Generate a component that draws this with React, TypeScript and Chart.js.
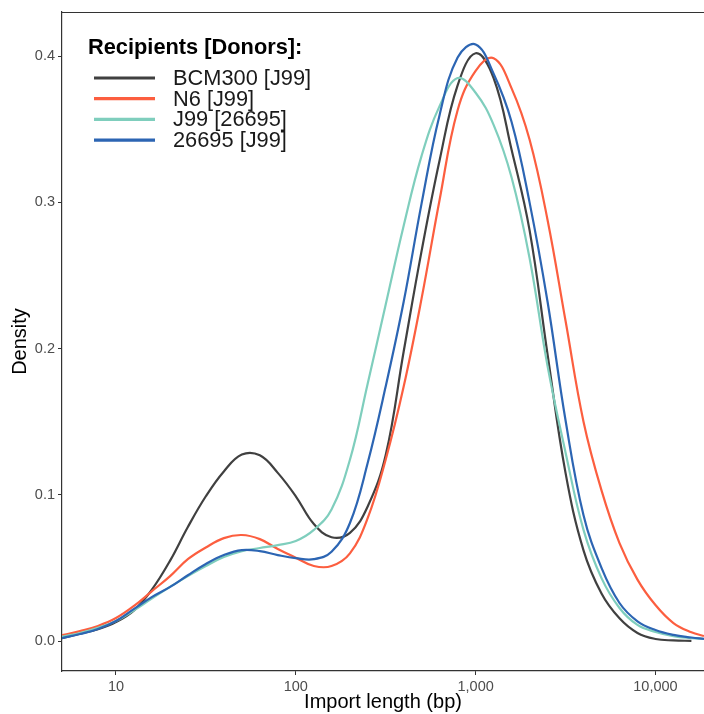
import React, { useEffect, useRef } from 'react';
import { Chart, registerables } from 'chart.js';

Chart.register(...registerables);

// Import length in bp (sampled on the log axis)
const importLengthBp = [
  5.01, 6.31, 7.94, 10, 12.6, 15.8, 20, 25.1, 31.6, 39.8, 50.1, 63.1, 79.4,
  100, 126, 158, 200, 251, 316, 398, 501, 631, 794, 1000, 1259, 1585, 1995,
  2512, 3162, 3981, 5012, 6310, 7943, 10000, 12589, 15849, 18620,
];

const bcm300J99 = [
  0.002, 0.005, 0.008, 0.013, 0.021, 0.035, 0.055, 0.078, 0.099, 0.116, 0.1275, 0.127, 0.115,
  0.099, 0.080, 0.071, 0.074, 0.092, 0.127, 0.198, 0.267, 0.329, 0.380, 0.402, 0.385, 0.336,
  0.281, 0.196, 0.115, 0.062, 0.0325, 0.0155, 0.0055, 0.0014, 0.0004, 0.0001, null,
];

const n6J99 = [
  0.004, 0.0068, 0.0103, 0.0157, 0.024, 0.034, 0.0444, 0.056, 0.064, 0.0704, 0.0725, 0.0697, 0.063,
  0.057, 0.0513, 0.0513, 0.060, 0.084, 0.124, 0.174, 0.2345, 0.302, 0.363, 0.390, 0.3986, 0.378,
  0.343, 0.288, 0.219, 0.150, 0.103, 0.067, 0.042, 0.0246, 0.0123, 0.006, 0.0034,
];

const j99_26695 = [
  0.003, 0.0055, 0.009, 0.0137, 0.021, 0.029, 0.037, 0.0444, 0.0513, 0.0574, 0.0615, 0.0636, 0.0656,
  0.0684, 0.076, 0.090, 0.124, 0.176, 0.230, 0.284, 0.332, 0.366, 0.385, 0.375, 0.353, 0.317,
  0.262, 0.188, 0.129, 0.076, 0.043, 0.0226, 0.011, 0.0062, 0.0034, 0.002, 0.0014,
];

const h26695J99 = [
  0.002, 0.0048, 0.0082, 0.0137, 0.022, 0.030, 0.037, 0.045, 0.0527, 0.0588, 0.0622, 0.0615, 0.0588,
  0.0567, 0.056, 0.061, 0.0807, 0.1217, 0.174, 0.232, 0.2995, 0.36, 0.399, 0.408, 0.388, 0.355,
  0.30, 0.232, 0.151, 0.086, 0.050, 0.026, 0.0135, 0.0075, 0.0042, 0.0024, 0.0014,
];

const seriesLabels = ['BCM300 [J99]', 'N6 [J99]', 'J99 [26695]', '26695 [J99]'];
const seriesColors = ['#404040', '#FC5E3F', '#7FCEBD', '#2C65B3'];
const seriesValues = [bcm300J99, n6J99, j99_26695, h26695J99];

const xTickValues = [10, 100, 1000, 10000];
const xTickLabels = ['10', '100', '1,000', '10,000'];
const yTickValues = [0, 0.1, 0.2, 0.3, 0.4];
const yTickLabels = ['0.0', '0.1', '0.2', '0.3', '0.4'];

const legendTitle = 'Recipients [Donors]:';
const xTitle = 'Import length (bp)';
const yTitle = 'Density';

const FONT = '"Liberation Sans", Arial, Helvetica, sans-serif';

const decorPlugin = {
  id: 'decor',
  afterDraw(chart: any) {
    const ctx = chart.ctx as CanvasRenderingContext2D;
    const { left, right, top } = chart.chartArea;
    ctx.save();
    // top border line
    ctx.strokeStyle = '#333333';
    ctx.lineWidth = 1.2;
    ctx.beginPath();
    ctx.moveTo(left, top + 0.5);
    ctx.lineTo(right, top + 0.5);
    ctx.stroke();

    // legend
    ctx.textBaseline = 'alphabetic';
    ctx.textAlign = 'left';
    ctx.fillStyle = '#000000';
    ctx.font = `bold 21.8px ${FONT}`;
    ctx.fillText(legendTitle, 88, 54);
    chart.data.datasets.forEach((ds: any, i: number) => {
      const base = 85 + i * 20.7;
      ctx.strokeStyle = ds.borderColor;
      ctx.lineWidth = 3.2;
      ctx.beginPath();
      ctx.moveTo(94, base - 7);
      ctx.lineTo(155, base - 7);
      ctx.stroke();
      ctx.fillStyle = '#1a1a1a';
      ctx.font = `21.8px ${FONT}`;
      ctx.fillText(ds.label, 173, base);
    });
    ctx.restore();
  },
};

export default function App() {
  const canvasRef = useRef<HTMLCanvasElement | null>(null);

  useEffect(() => {
    document.body.style.margin = '0';
    const canvas = canvasRef.current;
    if (!canvas) return;
    Chart.defaults.font.family = FONT;

    const datasets = seriesLabels.map((label, i) => ({
      label,
      data: importLengthBp.map((x, j) => ({ x, y: seriesValues[i][j] })),
      borderColor: seriesColors[i],
      backgroundColor: seriesColors[i],
      borderWidth: 2.2,
      pointRadius: 0,
      pointHoverRadius: 0,
      fill: false,
      tension: 0.4,
      order: seriesLabels.length - i,
    }));

    const chart = new Chart(canvas, {
      type: 'line',
      data: { datasets },
      plugins: [decorPlugin],
      options: {
        animation: false,
        responsive: false,
        devicePixelRatio: 1,
        events: [],
        layout: { padding: { top: 12, right: 0, bottom: 0, left: 0 } },
        plugins: {
          legend: { display: false },
          tooltip: { enabled: false },
          title: { display: false },
        },
        scales: {
          x: {
            type: 'logarithmic',
            bounds: 'data',
            min: 5.01,
            max: 18620,
            afterBuildTicks: (s: any) => {
              s.ticks = xTickValues.map((v) => ({ value: v }));
            },
            afterFit: (s: any) => {
              s.height = 43;
            },
            ticks: {
              autoSkip: false,
              maxRotation: 0,
              minRotation: 0,
              padding: 3,
              color: '#4D4D4D',
              font: { size: 14.5, family: FONT },
              callback: (_v: any, i: number) => xTickLabels[i],
            },
            grid: {
              display: true,
              drawOnChartArea: false,
              drawTicks: true,
              tickLength: 4,
              color: '#333333',
              lineWidth: 1,
            },
            border: { display: true, color: '#333333', width: 1.2 },
            title: {
              display: true,
              text: xTitle,
              color: '#000000',
              font: { size: 20, family: FONT },
              padding: { top: 0, bottom: 0 },
            },
          },
          y: {
            type: 'linear',
            bounds: 'data',
            min: -0.0205,
            max: 0.4302,
            afterBuildTicks: (s: any) => {
              s.ticks = yTickValues.map((v) => ({ value: v }));
            },
            afterFit: (s: any) => {
              s.width = 62;
            },
            ticks: {
              padding: 3,
              color: '#4D4D4D',
              font: { size: 14.5, family: FONT },
              callback: (_v: any, i: number) => yTickLabels[i],
            },
            grid: {
              display: true,
              drawOnChartArea: false,
              drawTicks: true,
              tickLength: 4,
              color: '#333333',
              lineWidth: 1,
            },
            border: { display: true, color: '#333333', width: 1.2 },
            title: {
              display: true,
              text: yTitle,
              color: '#000000',
              font: { size: 20, family: FONT },
              padding: { top: 8, bottom: 0 },
            },
          },
        },
      },
    });

    return () => {
      chart.destroy();
    };
  }, []);

  return (
    <div style={{ width: 704, height: 714, position: 'relative', background: '#ffffff' }}>
      <canvas
        ref={canvasRef}
        width={704}
        height={714}
        style={{ width: 704, height: 714, display: 'block' }}
      />
    </div>
  );
}
